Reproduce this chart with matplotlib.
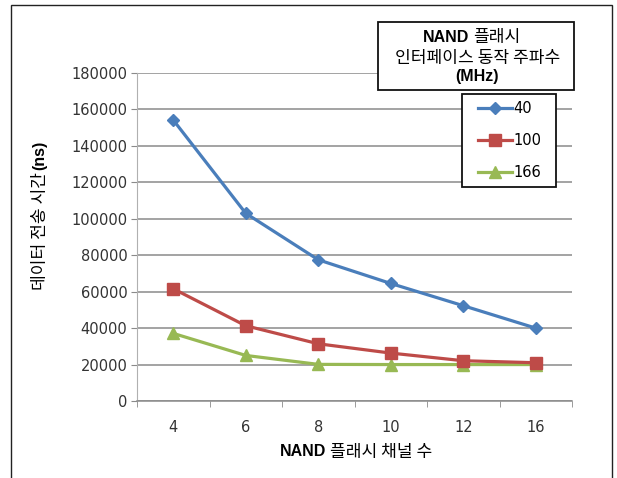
import numpy as np
import matplotlib
matplotlib.use("Agg")
import matplotlib.pyplot as plt
from matplotlib.patches import Rectangle
from matplotlib.lines import Line2D
from matplotlib.legend_handler import HandlerLine2D

# data
channels = ["4", "6", "8", "10", "12", "16"]
t_40 = [154200, 103000, 77500, 64500, 52300, 40000]
t_100 = [61600, 41300, 31400, 26300, 22100, 21000]
t_166 = [37100, 25000, 20100, 20000, 20000, 20000]
series_labels = ["40", "100", "166"]
y_ticks = [0, 20000, 40000, 60000, 80000, 100000, 120000, 140000, 160000, 180000]

W, H = 617, 478
KR = ["Noto Sans CJK KR", "DejaVu Sans"]
kr_size = 12.3
tick_color = "#333333"
grid_color = "#8a8a8a"

fig = plt.figure(figsize=(W / 100, H / 100), dpi=100)
fig.patch.set_facecolor("white")

# outer chart border (bottom edge runs off the image)
fig.add_artist(Rectangle((11 / W, -0.05), (612 - 11) / W, 1.05 - 5 / H,
                         transform=fig.transFigure, fill=False,
                         edgecolor="#222222", lw=1.0, zorder=0))

ax = fig.add_axes([137 / W, 1 - 401 / H, (572 - 137) / W, (401 - 73) / H])
x = np.arange(len(channels))

ax.plot(x, t_40, color="#4a7ebb", lw=2.3, marker="D", ms=6.5, label=series_labels[0], zorder=5)
ax.plot(x, t_100, color="#be4b48", lw=2.3, marker="s", ms=8, label=series_labels[1], zorder=4)
ax.plot(x, t_166, color="#98b954", lw=2.3, marker="^", ms=8.5, label=series_labels[2], zorder=3)

ax.set_xlim(-0.5, len(channels) - 0.5)
ax.set_ylim(0, 180000)
ax.set_yticks(y_ticks)
ax.set_yticklabels([str(v) for v in y_ticks])
ax.set_xticks(x)
ax.set_xticklabels(channels)
ax.set_xticks(np.arange(-0.5, len(channels)), minor=True)
ax.yaxis.grid(True, color=grid_color, lw=1.1)
ax.set_axisbelow(True)

for s in ["top", "right"]:
    ax.spines[s].set_visible(False)
ax.spines["left"].set_color("#b0b0b0")
ax.spines["bottom"].set_color(grid_color)
ax.spines["bottom"].set_linewidth(1.1)

ax.tick_params(axis="y", length=4, color="#8a8a8a", pad=3, labelsize=10.5, labelcolor=tick_color)
ax.tick_params(axis="x", which="major", length=0, pad=14, labelsize=10.5, labelcolor=tick_color)
ax.tick_params(axis="x", which="minor", length=4, color="#8a8a8a")

# axis labels with bold latin parts
fig.text(326 / W, 1 - 452 / H, "NAND", family="Liberation Sans", weight="bold",
         fontsize=11.5, ha="right", va="center")
fig.text(330 / W, 1 - 452 / H, "플래시 채널 수", family=KR, fontsize=kr_size, ha="left", va="center")

fig.text(40 / W, 1 - 170 / H, "(ns)", family="Liberation Sans", weight="bold", fontsize=11.5,
         rotation=90, rotation_mode="anchor", ha="left", va="center")
fig.text(40 / W, 1 - 172 / H, "데이터 전송 시간", family=KR, fontsize=kr_size,
         rotation=90, rotation_mode="anchor", ha="right", va="center")

# legend title box
fig.add_artist(Rectangle((378 / W, 1 - 90 / H), (574 - 378) / W, (90 - 22) / H,
                         transform=fig.transFigure, facecolor="white",
                         edgecolor="#111111", lw=1.3, zorder=6))
fig.text(469 / W, 1 - 37 / H, "NAND", family="Liberation Sans", weight="bold",
         fontsize=11.5, ha="right", va="center", zorder=7)
fig.text(473 / W, 1 - 37 / H, "플래시", family=KR, fontsize=kr_size, ha="left", va="center", zorder=7)
fig.text(478 / W, 1 - 58 / H, "인터페이스 동작 주파수", family=KR, fontsize=kr_size,
         ha="center", va="center", zorder=7)
fig.text(477 / W, 1 - 76 / H, "(MHz)", family="Liberation Sans", weight="bold",
         fontsize=11.5, ha="center", va="center", zorder=7)

leg = fig.legend(loc="upper left", bbox_to_anchor=(462 / W, 1 - 185 / H, 94 / W, 91 / H),
                 mode="expand", borderaxespad=0, borderpad=0.5, fontsize=10.5,
                 handlelength=2.9, handletextpad=0.15, labelspacing=1.15,
                 fancybox=False, framealpha=1, edgecolor="#111111",
                 handler_map={Line2D: HandlerLine2D(xpad=0.6)})
leg.get_frame().set_linewidth(1.3)
leg.set_zorder(6)

fig.savefig("out.png", dpi=100)
